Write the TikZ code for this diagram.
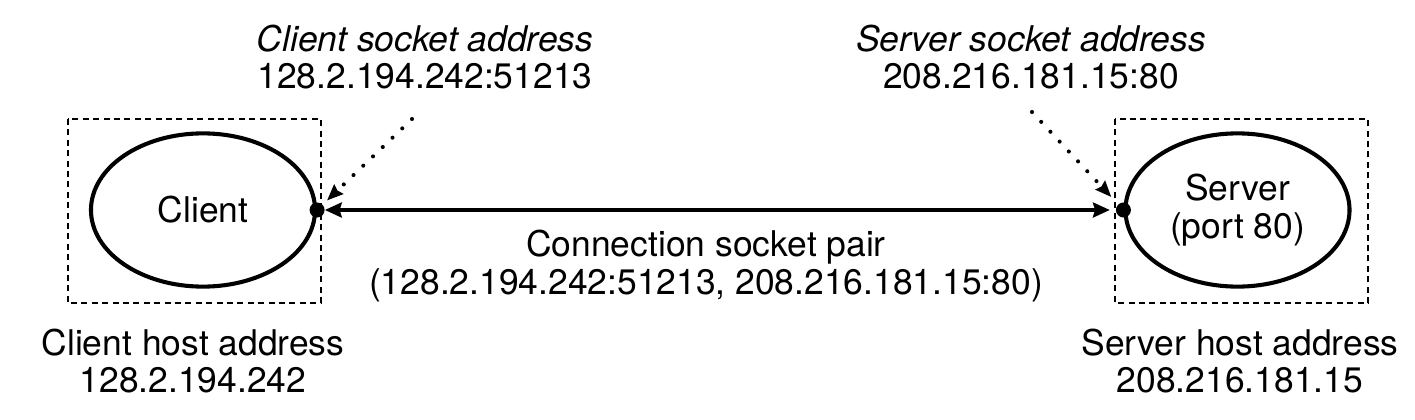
\documentclass[tikz,border=0pt]{standalone}
\usepackage{fontspec}
\setmainfont{TeX Gyre Heros}
\usetikzlibrary{shapes.geometric,arrows.meta}
\begin{document}
\begin{tikzpicture}[x=0.025cm,y=-0.025cm,
    every node/.style={font=\fontsize{25.2}{26.5}\selectfont, align=center, inner sep=0pt},
    proc/.style={draw, ellipse, line width=2.9pt, minimum width=5.6cm, minimum height=3.83cm},
    hostbox/.style={draw, dash pattern=on 0.15cm off 0.11cm, line width=1.4pt},
    sockdot/.style={fill, circle, minimum size=0.375cm},
    pair/.style={line width=2.8pt, {Stealth[length=0.42cm,width=0.37cm,inset=0.05cm]}-{Stealth[length=0.42cm,width=0.37cm,inset=0.05cm]}},
    pointer/.style={line width=2.9pt, line cap=round, dash pattern=on 0pt off 9.6pt, -{Stealth[length=0.4cm,width=0.32cm,inset=0.04cm]}}]
    \useasboundingbox (0,0) rectangle (1415,420);
    % hosts
    \draw[hostbox] (67.7,119) rectangle (320.7,303);
    \draw[hostbox] (1115,119) rectangle (1368,303);
    \node[proc] (client) at (203,210) {Client};
    \node[proc] (server) at (1237.5,210) {Server\\(port 80)};
    \node[sockdot] (cdot) at (client.east) {};
    \node[sockdot] (sdot) at (server.west) {};
    % labels
    \node (csock) at (425,57) {\textit{Client socket address}\\128.2.194.242:51213};
    \node (ssock) at (1031,57) {\textit{Server socket address}\\208.216.181.15:80};
    \node (chost) at (193,361) {Client host address\\128.2.194.242};
    \node (shost) at (1240,361) {Server host address\\208.216.181.15};
    \node (pairlbl) at (706,266) {Connection socket pair\\(128.2.194.242:51213, 208.216.181.15:80)};
    % connection
    \draw[pair, shorten >=0.145cm] (cdot) -- (sdot);
    % socket pointers
    \coordinate (cstart) at (412,119);
    \coordinate (sstart) at (1032,112);
    \draw[pointer, shorten >=0.15cm] (cstart) -- (cdot);
    \draw[pointer, shorten >=0.25cm] (sstart) -- (sdot);
\end{tikzpicture}
\end{document}
